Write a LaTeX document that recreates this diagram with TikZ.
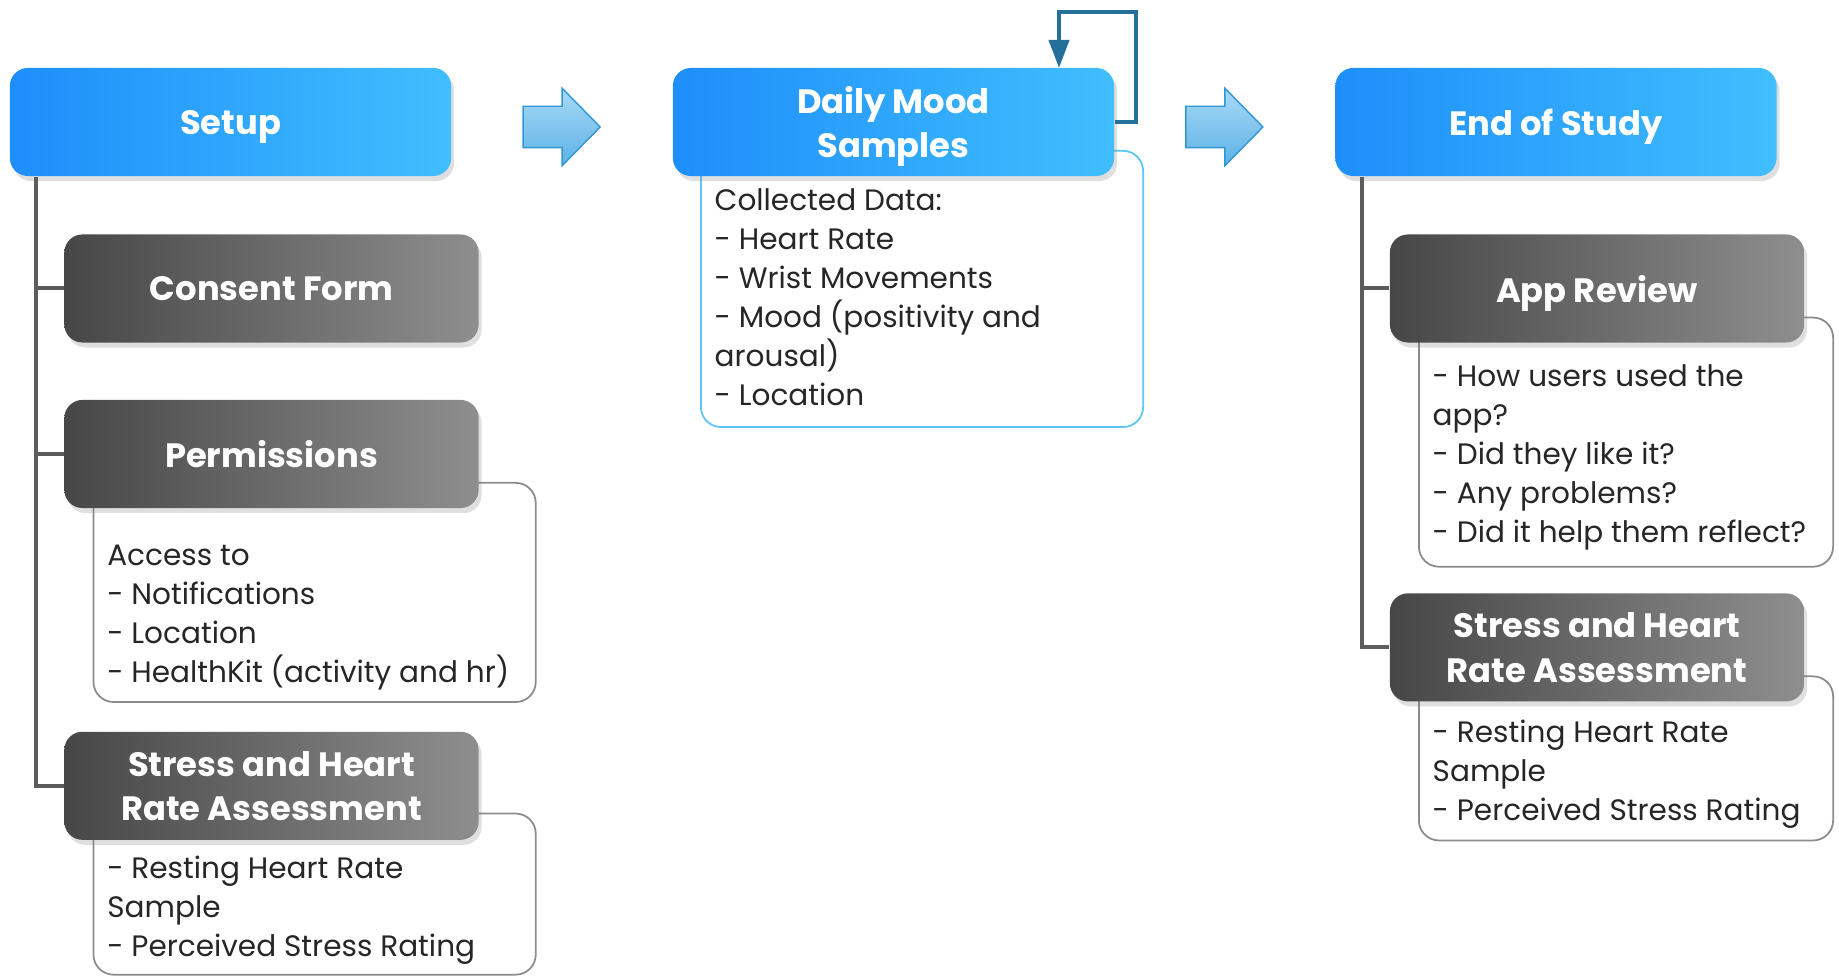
\documentclass[tikz,border=0pt]{standalone}
\usepackage{fontspec}
\setmainfont{Poppins}
\usetikzlibrary{positioning,calc,shapes.arrows,shadows,arrows.meta}
\definecolor{hdblueA}{HTML}{1E8EFB}
\definecolor{hdblueB}{HTML}{40BEFD}
\definecolor{hdgrayA}{HTML}{474747}
\definecolor{hdgrayB}{HTML}{8E8E8E}
\definecolor{stemgray}{HTML}{5C5C5C}
\definecolor{rimgray}{HTML}{8C8C8C}
\definecolor{moodrim}{HTML}{5CC6F5}
\definecolor{loopblue}{HTML}{24709A}
\definecolor{arrtop}{HTML}{A8D9F6}
\definecolor{arrbot}{HTML}{5DB2E6}
\definecolor{arredge}{HTML}{3096D4}
\definecolor{bodyink}{HTML}{262626}
\newcommand{\hdfont}{\fontsize{9.6}{12.6}\selectfont\bfseries}
\newcommand{\txtfont}{\fontsize{8.4}{11.1}\selectfont}
\tikzset{
  phase/.style={rounded corners=0.18cm, minimum width=4.41cm, minimum height=1.08cm,
    left color=hdblueA, right color=hdblueB, text=white, font=\hdfont, align=center,
    text depth=0pt,
    drop shadow={shadow xshift=0.03cm, shadow yshift=-0.05cm, opacity=0.25}},
  task/.style={phase, minimum width=4.14cm, left color=hdgrayA, right color=hdgrayB},
  detail/.style={draw=rimgray, line width=0.5pt, rounded corners=0.2cm, fill=white,
    anchor=north west, inner sep=0pt},
  note/.style={anchor=north west, inner sep=0pt, align=left, font=\txtfont, text=bodyink},
  treeline/.style={draw=stemgray, line width=0.04cm},
  loopline/.style={draw=loopblue, line width=0.04cm, -{Triangle[length=0.28cm,width=0.2cm]}},
  blockarrow/.style={single arrow, draw=arredge, top color=arrtop, bottom color=arrbot,
    minimum height=0.77cm, minimum width=0.76cm, inner xsep=0pt, inner ysep=0.2cm,
    single arrow head extend=0.18cm, single arrow tip angle=91}
}
\begin{document}
\begin{tikzpicture}[x=0.01cm,y=-0.01cm]
\useasboundingbox (0,0) rectangle (1839,977);

% frames under the headers
\node[detail, minimum width=4.42cm, minimum height=2.19cm] (permbox) at (92.6,482) {};
\node[detail, minimum width=4.42cm, minimum height=1.61cm] (stressLbox) at (92.6,812.7) {};
\node[detail, draw=moodrim, minimum width=4.42cm, minimum height=2.76cm] (moodbox) at (700,150) {};
\node[detail, minimum width=4.14cm, minimum height=2.49cm] (appbox) at (1418,316.7) {};
\node[detail, minimum width=4.14cm, minimum height=1.64cm] (stressRbox) at (1418,675.5) {};

% phases
\node[phase] (setup) at (230.5,122) {Setup};
\node[phase] (mood) at (893.5,122) {Daily Mood\\Samples};
\node[phase] (endst) at (1556,122) {End of Study};

% tasks
\node[task] (consent) at (271.5,288.5) {Consent Form};
\node[task] (perm) at (271.5,454) {Permissions};
\node[task] (stressL) at (271.5,785.8) {Stress and Heart\\Rate Assessment};
\node[task] (appr) at (1597,288.5) {App Review};
\node[task] (stressR) at (1597,647.4) {Stress and Heart\\Rate Assessment};

% texts
\node[note] (permtext) at ($(permbox.north west)+(14,55)$)
  {\strut Access to\\- Notifications\\- Location\\- HealthKit (activity and hr)};
\node[note] (stressLtext) at ($(stressLbox.north west)+(14,38)$)
  {\strut - Resting Heart Rate\\Sample\\- Perceived Stress Rating};
\node[note] (moodtext) at ($(moodbox.north west)+(14,32)$)
  {\strut Collected Data:\\- Heart Rate\\- Wrist Movements\\- Mood (positivity and\\arousal)\\- Location};
\node[note] (apptext) at ($(appbox.north west)+(14,42)$)
  {\strut - How users used the\\app?\\- Did they like it?\\- Any problems?\\- Did it help them reflect?};
\node[note] (stressRtext) at ($(stressRbox.north west)+(14,39)$)
  {\strut - Resting Heart Rate\\Sample\\- Perceived Stress Rating};

% tree lines
\coordinate (spineL) at ([xshift=0.27cm]setup.south west);
\coordinate (spineR) at ([xshift=0.27cm]endst.south west);
\draw[treeline] (spineL) |- (stressL.west);
\draw[treeline] (consent.west) -- (consent.west -| spineL);
\draw[treeline] (perm.west) -- (perm.west -| spineL);
\draw[treeline] (spineR) |- (stressR.west);
\draw[treeline] (appr.west) -- (appr.west -| spineR);

% block arrows
\node[blockarrow, xshift=-0.105cm, yshift=-0.05cm] (go1) at ($(setup.east)!0.5!(mood.west)$) {};
\node[blockarrow, xshift=-0.105cm, yshift=-0.05cm] (go2) at ($(mood.east)!0.5!(endst.west)$) {};

% repeat loop
\coordinate (looptop) at (1136.4,11.7);
\coordinate (loopend) at (1059,68);
\draw[loopline] (mood.east) -| (looptop) -| (loopend);
\end{tikzpicture}
\end{document}
